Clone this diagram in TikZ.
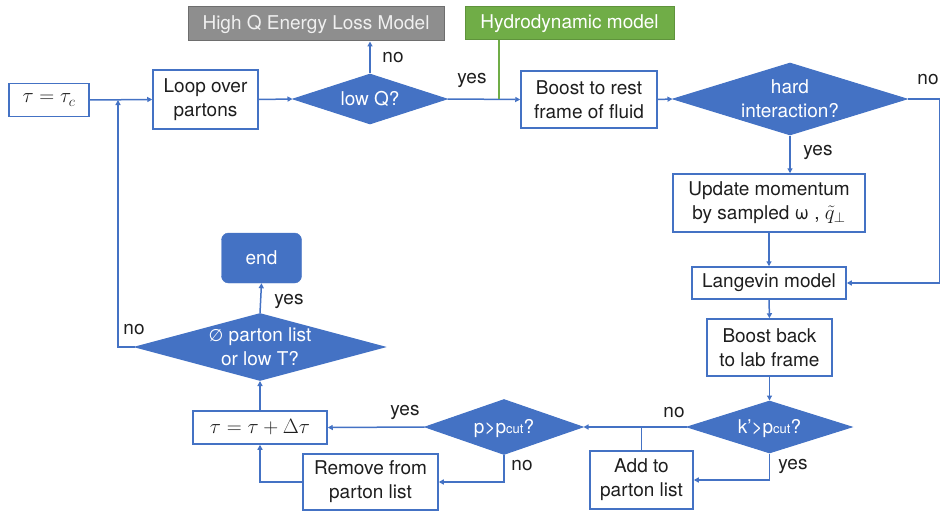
\documentclass[tikz,border=0pt]{standalone}
\usepackage{fontspec}
\setmainfont{TeX Gyre Heros}
\newfontfamily\dejavu{DejaVu Sans}
\usetikzlibrary{shapes.geometric,arrows.meta}
\definecolor{bl}{HTML}{4472C4}
\definecolor{txt}{HTML}{1E1E1E}
\definecolor{grayfill}{HTML}{8E8E8E}
\definecolor{grayline}{HTML}{6E6E6E}
\definecolor{grn}{HTML}{70AD47}
\newcommand\dtext[1]{\makebox[0pt]{\smash{\raisebox{-0.3em}{\begin{tabular}{@{}c@{}}#1\end{tabular}}}}}
\newcommand\pcut{p{\fontsize{13}{13}\selectfont cut}}
\begin{document}
\begin{tikzpicture}[x=1pt,y=-1pt,
  font=\fontsize{19}{24}\selectfont,
  box/.style={draw=bl, line width=1.5pt, fill=white, inner sep=0pt, align=center, text=txt},
  dia/.style={diamond, draw=bl, fill=bl, inner sep=0pt, text=white, line width=1pt},
  arr/.style={draw=bl, line width=1.5pt, -{Triangle[length=5pt,width=5pt]}},
  ln/.style={draw=bl, line width=1.5pt},
  lab/.style={text=txt, inner sep=0pt},
  mth/.style={font=\fontsize{22}{24}\selectfont}]
\useasboundingbox (0,0) rectangle (940,511);
% boxes
\node[box, mth, minimum width=80, minimum height=33] (tauc) at (49,100) {$\tau=\tau_c$};
\node[box, minimum width=105, minimum height=59] (loop) at (205.5,99.5) {Loop over\\partons};
\node[dia, minimum width=154, minimum height=50] (lowq) at (370,99) {\dtext{low Q?}};
\node[draw=grayline, line width=1pt, fill=grayfill, text=white!94!black, inner sep=0pt, minimum width=256, minimum height=34] (highq) at (316,24) {High Q Energy Loss Model};
\node[draw=grn!85!black, line width=1pt, fill=grn, text=white, inner sep=0pt, minimum width=209, minimum height=33] (hydro) at (569.5,23.5) {Hydrodynamic model};
\node[box, minimum width=136, minimum height=57] (boost) at (589,99.5) {Boost to rest\\frame of fluid};
\node[dia, minimum width=234, minimum height=72] (hard) at (790,99) {\dtext{hard\\interaction?}};
\node[box, minimum width=192, minimum height=58] (upd) at (769,203) {Update momentum\\by sampled ω , {\fontsize{22}{24}\selectfont$\tilde{q}_{\perp}$}};
\node[box, minimum width=154, minimum height=32] (lang) at (769,283) {Langevin model};
\node[box, minimum width=125, minimum height=57] (bback) at (769.5,347.5) {Boost back\\to lab frame};
\node[dia, minimum width=165, minimum height=52] (kp) at (769.5,427) {\dtext{k’>\pcut?}};
\node[box, minimum width=103, minimum height=58] (add) at (641.5,480) {Add to\\parton list};
\node[dia, minimum width=158, minimum height=55] (pp) at (504,427) {\dtext{p>\pcut?}};
\node[box, mth, minimum width=134, minimum height=33] (tau2) at (260,427.5) {$\tau=\tau+\Delta\tau$};
\node[box, minimum width=135, minimum height=56] (rem) at (370.5,482) {Remove from\\parton list};
\node[dia, minimum width=250, minimum height=67] (emp) at (260,347) {\dtext{{\dejavu\fontsize{17}{24}\selectfont ∅} parton list\\or low T?}};
\node[draw=bl, fill=bl, rounded corners=7pt, text=white, inner sep=0pt, minimum width=80, minimum height=50] (end) at (261.5,258) {end};
% coordinates
\coordinate (hj) at (499,99);
\coordinate (lj) at (118,100);
% connectors
\draw[arr] (tauc.east) -- (loop.west);
\draw[arr] (loop.east) -- (lowq.west);
\draw[arr] (lowq.north) -- (lowq.north |- highq.south);
\draw[arr] (lowq.east) -- (boost.west);
\draw[draw=grn, line width=1.5pt] (hj |- hydro.south) -- (hj);
\draw[arr] (boost.east) -- (hard.west);
\draw[arr] (hard.south) -- (hard.south |- upd.north);
\draw[arr] (hard.east) -- ++(32,0) |- (lang.east);
\draw[arr] (upd.south) -- (lang.north);
\draw[arr] (lang.south) -- (bback.north);
\draw[arr] (bback.south) -- (kp.north);
\draw[arr] (kp.west) -- (pp.east);
\draw[ln] (add.north) -- (add.north |- kp.west);
\draw[arr] (kp.south) |- (add.east);
\draw[arr] (pp.west) -- (tau2.east);
\draw[arr] (pp.south) |- (rem.east);
\draw[arr] (rem.west) -| (tau2.south);
\draw[arr] (tau2.north) -- (emp.south);
\draw[arr] (emp.north) -- (end.south);
\draw[arr] (emp.west) -| (lj);
% labels
\node[lab] (l1) at (393,58) {no};
\node[lab] (l2) at (472,80) {yes};
\node[lab] (l3) at (928,80) {no};
\node[lab] (l4) at (818,152) {yes};
\node[lab] (l5) at (674,413) {no};
\node[lab] (l6) at (793,466) {yes};
\node[lab] (l7) at (522,466) {no};
\node[lab] (l8) at (405,412) {yes};
\node[lab] (l9) at (289,301) {yes};
\node[lab] (l10) at (134,330) {no};
\end{tikzpicture}
\end{document}
